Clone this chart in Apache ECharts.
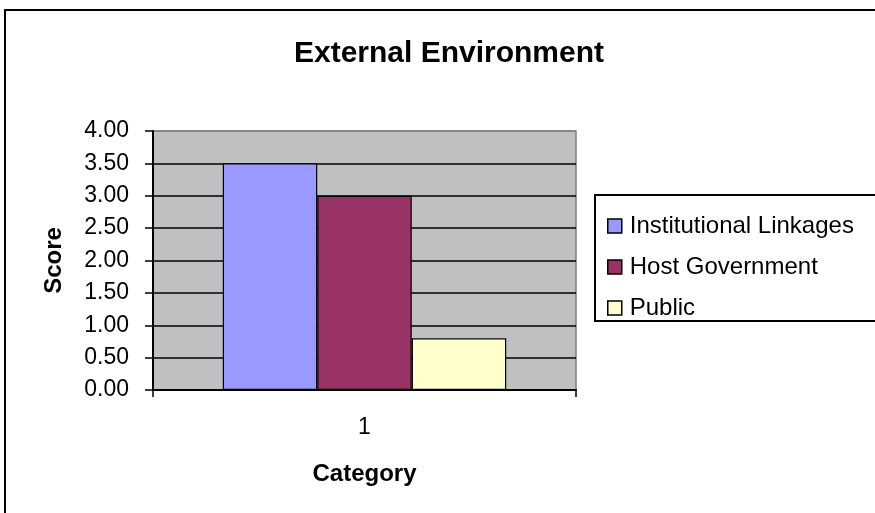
<!DOCTYPE html>
<html>
<head>
<meta charset="utf-8">
<script src="https://cdn.jsdelivr.net/npm/echarts@6/dist/echarts.min.js"></script>
<style>html,body{margin:0;padding:0;background:#fff;}#c{width:875px;height:513px;}</style>
</head>
<body>
<div id="c"></div>
<script>
var categories = ['1'];
var seriesNames = ['Institutional Linkages', 'Host Government', 'Public'];
var institutionalLinkages = [3.5];
var hostGovernment = [3.0];
var publicScore = [0.8];
var yTicks = [0, 0.5, 1, 1.5, 2, 2.5, 3, 3.5, 4];

var FONT = '"Liberation Sans", Arial, sans-serif';
var colors = ['#9999FF', '#993366', '#FFFFCC'];
var seriesData = [institutionalLinkages, hostGovernment, publicScore];

var chart = echarts.init(document.getElementById('c'), null, {renderer: 'canvas'});
var gridColors = yTicks.map(function (v, i) { return i === yTicks.length - 1 ? '#808080' : '#000000'; });

chart.setOption({
  animation: false,
  backgroundColor: '#ffffff',
  textStyle: {fontFamily: FONT, color: '#000'},
  title: {
    text: 'External Environment',
    left: 444, top: 34, textAlign: 'center',
    textStyle: {fontFamily: FONT, fontSize: 30, fontWeight: 'bold', color: '#000'}
  },
  graphic: [
    {type: 'rect', z: -1, shape: {x: 5, y: 10, width: 900, height: 600},
     style: {fill: 'none', stroke: '#000', lineWidth: 2}},
    {type: 'rect', z: 0, shape: {x: 595, y: 195, width: 300, height: 126},
     style: {fill: '#fff', stroke: '#000', lineWidth: 2}}
  ],
  legend: {
    orient: 'vertical',
    left: 602, top: 209,
    itemWidth: 14, itemHeight: 14, itemGap: 17,
    icon: 'rect',
    itemStyle: {borderColor: '#000', borderWidth: 1.5},
    textStyle: {fontFamily: FONT, fontSize: 24, color: '#000', lineHeight: 24, padding: [0, 0, 0, 3]},
    data: seriesNames
  },
  grid: {left: 153, top: 131, width: 423, height: 259, show: true,
         backgroundColor: '#C0C0C0', borderColor: '#808080', borderWidth: 1.5},
  xAxis: {
    type: 'category', data: categories,
    name: 'Category', nameLocation: 'middle', nameGap: 72,
    nameTextStyle: {fontFamily: FONT, fontSize: 24, fontWeight: 'bold', color: '#000'},
    axisLine: {lineStyle: {color: '#000', width: 2}},
    axisTick: {show: true, length: 7, inside: false, alignWithLabel: false, lineStyle: {color: '#000', width: 1.5}},
    axisLabel: {fontFamily: FONT, fontSize: 23, color: '#000', margin: 26},
    splitLine: {show: false}
  },
  yAxis: {
    type: 'value', min: 0, max: 4, interval: 0.5,
    name: 'Score', nameLocation: 'middle', nameGap: 87, nameRotate: 90,
    nameTextStyle: {fontFamily: FONT, fontSize: 24, fontWeight: 'bold', color: '#000'},
    axisLine: {show: true, lineStyle: {color: '#000', width: 2}},
    axisTick: {show: true, length: 8, lineStyle: {color: '#000', width: 1.5}},
    axisLabel: {fontFamily: FONT, fontSize: 23, color: '#000', margin: 24,
      formatter: function (v) { return v.toFixed(2); }},
    splitLine: {show: true, lineStyle: {color: gridColors, width: 1.5}}
  },
  series: seriesNames.map(function (n, i) {
    return {
      name: n, type: 'bar', data: seriesData[i],
      barGap: '0%', barCategoryGap: '33%',
      itemStyle: {color: colors[i], borderColor: '#000', borderWidth: 1.2}
    };
  })
});
</script>
</body>
</html>
